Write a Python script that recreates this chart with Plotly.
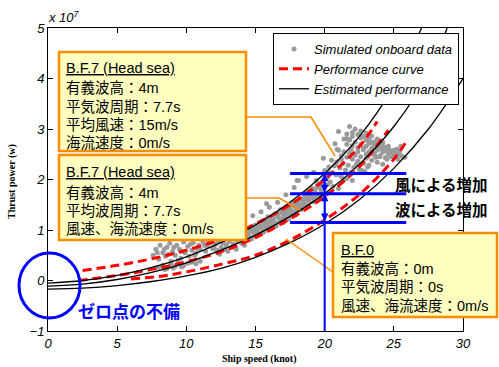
import plotly.graph_objects as go

# ---------------- data (power in units of 1e7 W, speed in knots) ----------------
sim_speed = [7.6, 7.8, 8.0, 8.1, 8.3, 8.5, 8.6, 8.8, 8.9, 9.0, 9.2, 9.3, 9.5, 9.6, 9.8, 9.9,
             10.1, 10.2, 10.4, 10.5, 10.7, 10.9, 11.0, 11.2, 11.4, 11.5, 11.7, 11.9, 12.1, 12.3,
             12.5, 12.7, 12.9, 13.1, 13.4, 13.7, 14.0,
             8.0, 8.3, 8.6, 8.9, 9.2, 9.5, 9.8, 10.1, 10.4, 10.7, 11.0, 8.45, 9.05, 9.65,
             7.9, 8.4, 9.1, 9.7, 10.3, 10.8, 11.3, 12.0, 12.6, 13.3, 13.9, 8.7, 9.4, 10.6, 11.6,
             12.2, 12.8, 13.5, 14.2, 12.4, 13.0, 13.6,
             14.4, 14.6, 14.7, 14.9, 15.0, 15.2, 15.3, 15.5, 15.6, 15.8, 15.9, 16.1, 16.2, 16.4,
             16.5, 16.7, 16.8, 17.0, 17.1, 17.3, 17.4, 17.6, 17.7, 17.9, 18.0, 18.2, 18.3, 18.5,
             18.6, 18.8, 18.9, 19.1, 19.2, 19.4, 19.5, 19.7, 19.8,
             14.5, 14.8, 15.1, 15.4, 15.7, 16.0, 16.3, 16.6, 16.9, 17.2, 17.5, 17.8, 18.1, 18.4, 18.7, 19.0, 19.3, 19.6,
             14.65, 14.95, 15.25, 15.55, 15.85, 16.15, 16.45, 16.75, 17.05, 17.35, 17.65, 17.95, 18.25, 18.55, 18.85, 19.15, 19.45, 19.75,
             14.65, 14.95, 15.25, 15.55, 15.85, 16.15, 16.45, 16.75, 17.05, 17.35, 17.65, 17.95, 18.25, 18.55, 18.85, 19.15, 19.45, 19.75,
             15.1, 15.7, 16.3, 16.9, 17.5, 18.1, 18.7, 19.3, 19.9, 16.0, 17.0, 18.4,
             14.8, 15.4, 16.0, 16.6, 17.2, 17.8, 18.1, 18.7, 19.2, 15.8,
             21.8, 22.2, 22.6, 23.0, 23.4, 23.8, 24.2, 24.6, 25.0, 25.4, 25.8,
             22.0, 22.4, 22.8, 23.2, 23.6, 24.0, 24.4, 24.8, 25.2, 25.6,
             21.4, 21.8, 22.2, 22.6, 23.0, 23.4, 23.8, 24.2, 24.6, 25.0,
             21.6, 22.0, 22.4, 22.8, 23.2, 23.6, 24.0, 24.4,
             21.0, 21.4, 21.8, 22.2, 22.6, 23.0, 23.4, 23.8, 24.2,
             21.2, 21.6, 22.0, 22.4, 22.8, 23.2,
             20.5, 20.9, 21.3, 21.7, 22.1, 22.5, 22.9,
             20.7, 21.1, 21.5, 21.9,
             20.0, 20.4, 20.8, 21.2, 21.6, 22.0,
             19.4, 19.8, 20.2, 20.6, 21.0,
             18.8, 19.2, 19.6, 20.0,
             23.2, 23.6, 24.0, 24.4, 24.8, 23.5, 24.0, 24.5, 25.2, 25.5,
             22.4, 22.8, 23.0, 23.4, 23.8, 24.2, 24.6, 25.0, 25.4, 22.6, 23.0, 23.4, 23.8, 24.2, 24.6,
             22.0, 21.6, 21.9, 22.3, 21.0, 21.4, 20.4, 20.8, 21.2, 20.2, 24.8, 25.3, 23.7, 22.7, 23.1,
             19.9, 20.75, 20.9, 21.6, 19.2, 18.0, 20.3, 21.0]
sim_power = [0.50, 0.62, 0.42, 0.70, 0.55, 0.48, 0.66, 0.74, 0.38, 0.58, 0.50, 0.70, 0.62, 0.44, 0.76, 0.55,
             0.68, 0.48, 0.60, 0.75, 0.54, 0.70, 0.62, 0.77, 0.58, 0.68, 0.74, 0.63, 0.72, 0.78,
             0.66, 0.74, 0.70, 0.77, 0.72, 0.78, 0.74,
             0.26, 0.30, 0.24, 0.32, 0.28, 0.33, 0.29, 0.34, 0.36, 0.33, 0.38, 0.22, 0.25, 0.27,
             0.55, 0.62, 0.66, 0.58, 0.72, 0.64, 0.70, 0.66, 0.76, 0.66, 0.78, 0.52, 0.40, 0.50, 0.78,
             0.60, 0.62, 0.68, 0.70, 0.52, 0.58, 0.62,
             0.88, 1.00, 0.82, 0.95, 1.10, 0.90, 1.04, 1.18, 0.96, 1.10, 1.26, 1.02, 1.16, 1.32,
             1.08, 1.24, 1.40, 1.15, 1.30, 1.46, 1.22, 1.38, 1.55, 1.30, 1.46, 1.62, 1.40, 1.56,
             1.72, 1.48, 1.64, 1.82, 1.56, 1.72, 1.90, 1.64, 1.80,
             0.93, 0.97, 1.01, 1.06, 1.11, 1.16, 1.22, 1.27, 1.33, 1.36, 1.41, 1.47, 1.53, 1.59, 1.65, 1.72, 1.79, 1.84,
             1.01, 1.05, 1.09, 1.14, 1.19, 1.24, 1.30, 1.35, 1.41, 1.44, 1.49, 1.55, 1.61, 1.67, 1.73, 1.80, 1.87, 1.92,
             0.85, 0.89, 0.93, 0.98, 1.03, 1.08, 1.14, 1.19, 1.25, 1.28, 1.33, 1.39, 1.45, 1.51, 1.57, 1.64, 1.71, 1.76,
             0.98, 1.06, 1.12, 1.22, 1.32, 1.42, 1.60, 1.66, 1.88, 1.20, 1.36, 1.50,
             1.28, 1.36, 1.45, 1.55, 1.70, 1.84, 1.98, 2.06, 2.14, 1.52,
             3.05, 3.00, 2.96, 2.92, 2.86, 2.80, 2.74, 2.66, 2.58, 2.50, 2.44,
             2.93, 2.89, 2.85, 2.80, 2.75, 2.70, 2.64, 2.57, 2.50, 2.46,
             2.80, 2.78, 2.74, 2.70, 2.66, 2.62, 2.58, 2.54, 2.50, 2.45,
             2.70, 2.67, 2.63, 2.59, 2.55, 2.51, 2.47, 2.43,
             2.58, 2.55, 2.52, 2.48, 2.45, 2.42, 2.38, 2.34, 2.30,
             2.47, 2.44, 2.40, 2.36, 2.32, 2.28,
             2.38, 2.35, 2.31, 2.28, 2.24, 2.20, 2.16,
             2.27, 2.23, 2.19, 2.15,
             2.18, 2.14, 2.10, 2.06, 2.02, 1.98,
             1.98, 1.94, 1.90, 1.86, 1.82,
             1.78, 1.74, 1.70, 1.66,
             2.72, 2.68, 2.64, 2.58, 2.55, 2.50, 2.45, 2.40, 2.60, 2.66,
             2.55, 2.62, 2.50, 2.56, 2.62, 2.58, 2.55, 2.52, 2.56, 2.82, 2.78, 2.74, 2.70, 2.66, 2.62,
             2.85, 2.90, 2.60, 2.30, 2.10, 2.00, 1.95, 2.30, 2.40, 2.05, 2.45, 2.40, 2.44, 2.18, 2.25,
             2.42, 2.71, 2.60, 2.81, 2.14, 1.98, 2.25, 2.95]

perf1_speed = [2.5, 5, 7.5, 10, 12.5, 15, 17.5, 20, 22.5, 23.8]
perf1_power = [0.20, 0.30, 0.43, 0.60, 0.82, 1.12, 1.50, 2.00, 2.65, 3.15]
perf2_speed = [2.2, 5, 7.5, 10, 12.5, 15, 17.5, 20, 22.5, 24.6]
perf2_power = [0.00, 0.10, 0.22, 0.37, 0.57, 0.85, 1.22, 1.66, 2.25, 2.98]
perf3_speed = [6.0, 8, 10, 12.5, 15, 17.5, 20, 22.5, 25, 25.9]
perf3_power = [0.03, 0.08, 0.17, 0.32, 0.50, 0.80, 1.20, 1.70, 2.40, 2.75]

est1_speed = [0, 2.5, 5, 7.5, 10, 12.5, 15, 17.5, 20, 22.5, 25, 27.0]
est1_power = [-0.05, 0.0, 0.10, 0.26, 0.47, 0.75, 1.10, 1.55, 2.12, 2.85, 3.85, 5.0]
est2_speed = [0, 2.5, 5, 7.5, 10, 12.5, 15, 17.5, 20, 22.5, 25, 27.5, 28.85]
est2_power = [-0.11, -0.07, 0.02, 0.16, 0.35, 0.60, 0.90, 1.27, 1.72, 2.30, 3.05, 4.10, 5.0]
est3_speed = [0, 2.5, 5, 7.5, 10, 12.5, 15, 17.5, 20, 22.5, 25, 27.5, 30]
est3_power = [-0.17, -0.15, -0.10, -0.02, 0.09, 0.24, 0.46, 0.75, 1.12, 1.60, 2.22, 3.00, 4.00]

ref_speed = 20
ref_levels = [2.12, 1.72, 1.15]   # BF7 wind+wave, BF7 wave, BF0 at 20 knots
level_span = [17.5, 25.9]

x_ticks = [0, 5, 10, 15, 20, 25, 30]
y_ticks = [-1, 0, 1, 2, 3, 4, 5]

# ---------------- layout helpers (pixel -> paper) ----------------
W, H = 499, 367
PL, PR, PT, PB = 48, 463, 28, 331
def fx(p):
    return (p - PL) / (PR - PL)
def fy(p):
    return (PB - p) / (PB - PT)

ORANGE = '#FF8C00'
BOXFILL = '#FFFFC0'
BLUE = '#0000FF'
CJK = 'Liberation Sans, Noto Sans CJK JP'

fig = go.Figure()
fig.add_trace(go.Scatter(x=sim_speed, y=sim_power, mode='markers',
                         marker=dict(color='#9a9a9a', size=5, line=dict(width=0)),
                         name='Simulated onboard data'))
for i, (sx, sy) in enumerate([(perf1_speed, perf1_power), (perf2_speed, perf2_power), (perf3_speed, perf3_power)]):
    fig.add_trace(go.Scatter(x=sx, y=sy, mode='lines', line=dict(color='red', width=3, dash='9px,5px', shape='spline'),
                             name='Performance curve', legendgroup='perf', showlegend=(i == 0)))
for i, (sx, sy) in enumerate([(est1_speed, est1_power), (est2_speed, est2_power), (est3_speed, est3_power)]):
    fig.add_trace(go.Scatter(x=sx, y=sy, mode='lines', line=dict(color='black', width=1.3, shape='spline'),
                             name='Estimated performance', legendgroup='est', showlegend=(i == 0)))

shapes = []
def path(pts):
    d = 'M ' + ' L '.join(f'{fx(a):.5f},{fy(b):.5f}' for a, b in pts)
    return dict(type='path', path=d, xref='paper', yref='paper', layer='above',
                line=dict(color=ORANGE, width=1.5))
shapes.append(path([(246, 117), (311, 117), (335, 156)]))
shapes.append(path([(246, 198), (279, 198), (300, 210)]))
shapes.append(path([(286, 239), (333, 272)]))
for (x0, y0, x1, y1) in [(59, 52, 246, 151), (59, 155, 246, 240), (333, 233, 497, 317)]:
    shapes.append(dict(type='rect', xref='paper', yref='paper', x0=fx(x0), x1=fx(x1), y0=fy(y1), y1=fy(y0),
                       fillcolor=BOXFILL, line=dict(color=ORANGE, width=2.5), layer='above'))
shapes.append(dict(type='circle', xref='paper', yref='paper', x0=fx(19), x1=fx(80), y0=fy(318), y1=fy(253),
                   line=dict(color=BLUE, width=3), layer='above'))
shapes.append(dict(type='line', xref='x', yref='y', x0=ref_speed, x1=ref_speed, y0=-1, y1=ref_levels[0],
                   line=dict(color=BLUE, width=2), layer='above'))
for lv in ref_levels:
    shapes.append(dict(type='line', xref='x', yref='y', x0=level_span[0], x1=level_span[1], y0=lv, y1=lv,
                       line=dict(color=BLUE, width=3), layer='above'))

ann = []
def txt(t, x, y, size=14.5, color='black', xanchor='left', family=CJK, **kw):
    ann.append(dict(text=t, x=fx(x), y=fy(y), xref='paper', yref='paper', showarrow=False,
                    xanchor=xanchor, yanchor='middle', font=dict(family=family, size=size, color=color), **kw))

box1 = ['<u>B.F.7 (Head sea)</u>', '有義波高：4m', '平気波周期：7.7s', '平均風速：15m/s', '海流速度：0m/s']
for t, yy in zip(box1, [68, 88, 107, 125, 143]):
    txt(t, 64, yy)
box2 = ['<u>B.F.7 (Head sea)</u>', '有義波高：4m', '平均波周期：7.7s', '風速、海流速度：0m/s']
for t, yy in zip(box2, [172, 193, 211, 229]):
    txt(t, 64, yy)
box3 = ['<u>B.F.0</u>', '有義波高：0m', '平気波周期：0s', '風速、海流速度：0m/s']
for t, yy in zip(box3, [250, 269, 287, 306]):
    txt(t, 339, yy)

txt('<b>風による増加</b>', 393, 184, size=15.5, family='Noto Sans CJK JP')
txt('<b>波による増加</b>', 393, 209, size=15.5, family='Noto Sans CJK JP')
txt('<b>ゼロ点の不備</b>', 76, 310, size=17, color=BLUE, family='Noto Sans CJK JP')
txt('<i>x 10<sup>7</sup></i>', 46, 17, size=13, family='Liberation Sans')
txt('<b>Ship speed (knot)</b>', 259, 359, size=10, xanchor='center', family='Liberation Serif')
ann.append(dict(text='<b>Thrust power (w)</b>', x=fx(12), y=fy(182), xref='paper', yref='paper',
                showarrow=False, textangle=-90, xanchor='center', yanchor='middle',
                font=dict(family='Liberation Serif', size=10, color='black')))

for a, b in [(ref_levels[0], ref_levels[1]), (ref_levels[1], ref_levels[2])]:
    ann.append(dict(x=ref_speed, y=a, ax=ref_speed, ay=b, xref='x', yref='y', axref='x', ayref='y',
                    text='', showarrow=True, arrowhead=2, startarrowhead=2, arrowside='end+start',
                    arrowsize=1.0, startarrowsize=1.0, arrowwidth=1.5, arrowcolor=BLUE,
                    standoff=0, startstandoff=0))

axis_common = dict(showgrid=False, zeroline=False, showline=True, linecolor='black', linewidth=1,
                   mirror='allticks', ticks='inside', ticklen=5, tickwidth=1, tickcolor='black',
                   tickfont=dict(family='Liberation Sans', size=13, style='italic', color='black'))
fig.update_layout(
    width=W, height=H,
    margin=dict(l=PL, r=W - PR, t=PT, b=H - PB),
    paper_bgcolor='white', plot_bgcolor='white',
    xaxis=dict(range=[0, 30], tickvals=x_ticks, **axis_common),
    yaxis=dict(range=[-1, 5], tickvals=y_ticks, **axis_common),
    legend=dict(x=fx(459), y=fy(33), xanchor='right', yanchor='top', bgcolor='white',
                bordercolor='black', borderwidth=1,
                font=dict(family='Liberation Sans', size=13, style='italic', color='black'),
                tracegroupgap=0),
    shapes=shapes, annotations=ann, showlegend=True,
)
fig.write_html('out.html', config={'displayModeBar': False},
               post_script="document.body.style.margin='0';")
